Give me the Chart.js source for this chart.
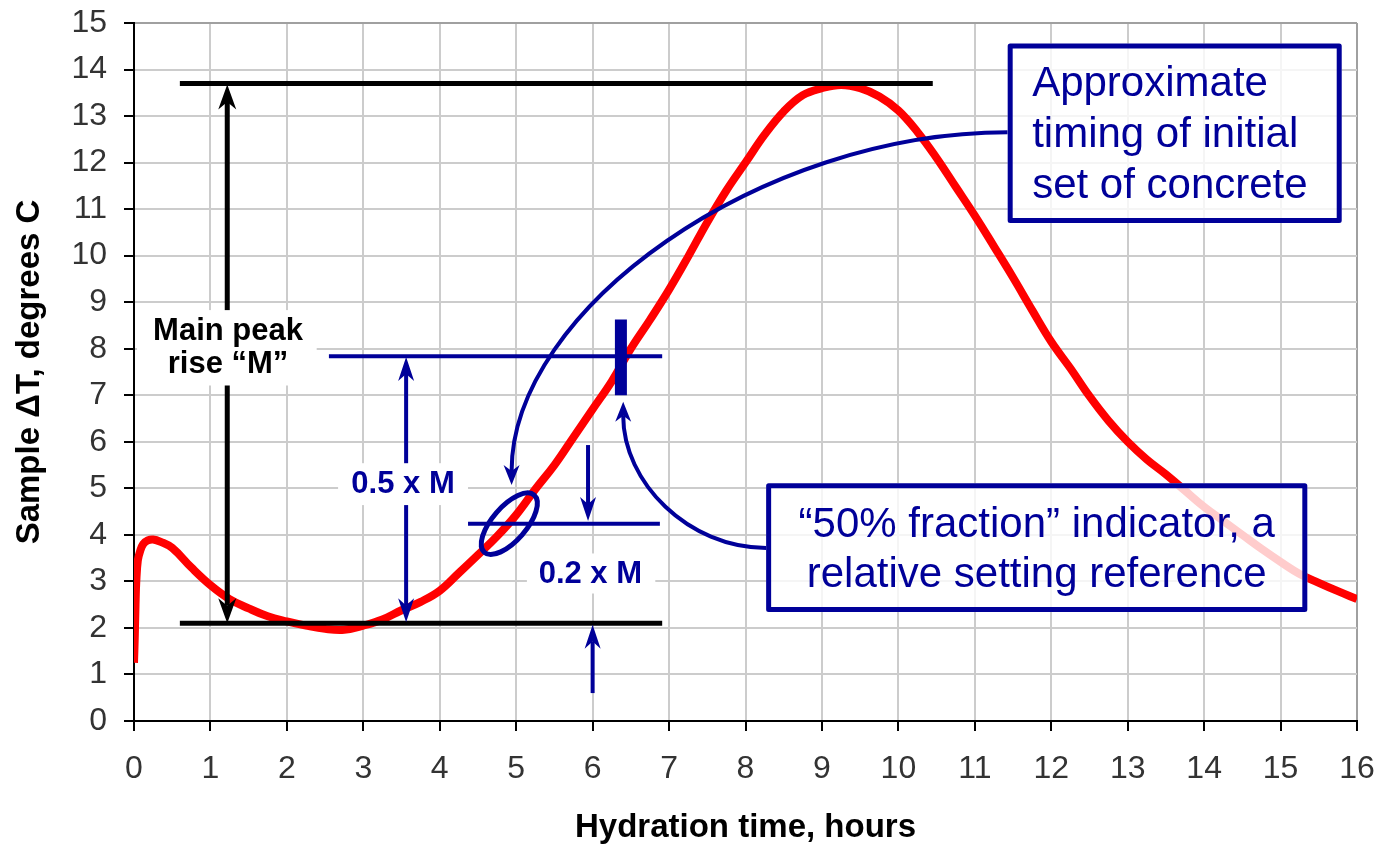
<!DOCTYPE html>
<html>
<head>
<meta charset="utf-8">
<script src="https://cdn.jsdelivr.net/npm/chart.js@4.4.1/dist/chart.umd.min.js"></script>
<style>
  html, body { margin: 0; padding: 0; background: #fff; }
  #wrap { width: 1379px; height: 844px; }
</style>
</head>
<body>
<div id="wrap"><canvas id="myChart"></canvas></div>
<script>
// hydration time (h) and sample delta T (deg C)
const hours = [0, 0.01, 0.02, 0.03, 0.05, 0.08, 0.12, 0.18, 0.25, 0.35, 0.5, 0.75,
  1, 1.25, 1.5, 1.75, 2, 2.25, 2.5, 2.75, 3, 3.25, 3.5, 3.75,
  4, 4.25, 4.5, 4.75, 5, 5.25, 5.5, 5.75, 6, 6.25, 6.5, 6.75,
  7, 7.25, 7.5, 7.75, 8, 8.25, 8.5, 8.75, 9, 9.25, 9.5, 9.75,
  10, 10.25, 10.5, 10.75, 11, 11.25, 11.5, 11.75, 12, 12.25, 12.5, 12.75,
  13, 13.25, 13.5, 13.75, 14, 14.25, 14.5, 14.75, 15, 15.25, 15.5, 15.75, 16];
const deltaT = [1.25, 1.8, 2.5, 3.0, 3.45, 3.65, 3.8, 3.88, 3.9, 3.85, 3.72, 3.3,
  2.92, 2.62, 2.42, 2.25, 2.14, 2.05, 1.98, 1.96, 2.05, 2.18, 2.38, 2.56,
  2.8, 3.18, 3.57, 3.97, 4.43, 4.98, 5.5, 6.1, 6.7, 7.3, 8.0, 8.62,
  9.27, 9.98, 10.72, 11.4, 12.0, 12.6, 13.1, 13.45, 13.6, 13.67, 13.6, 13.42,
  13.12, 12.66, 12.1, 11.48, 10.86, 10.2, 9.53, 8.83, 8.15, 7.58, 6.98, 6.45,
  6.0, 5.62, 5.3, 4.95, 4.6, 4.3, 4.0, 3.7, 3.42, 3.16, 2.97, 2.79, 2.62];

const xTickLabels = ['0','1','2','3','4','5','6','7','8','9','10','11','12','13','14','15','16'];
const yTickLabels = ['0','1','2','3','4','5','6','7','8','9','10','11','12','13','14','15'];

const FONT = "'Liberation Sans', Arial, sans-serif";
const NAVY = '#000099';

function arrowHead(ctx, x, y, ang, len, w, col) {
  ctx.save();
  ctx.translate(x, y);
  ctx.rotate(ang);
  ctx.beginPath();
  ctx.moveTo(0, 0);
  ctx.lineTo(-len, -w);
  ctx.lineTo(-len * 0.7, 0);
  ctx.lineTo(-len, w);
  ctx.closePath();
  ctx.fillStyle = col;
  ctx.fill();
  ctx.restore();
}

// annotations drawn on top, positioned in data units through the scales
const annotations = {
  id: 'annotations',
  afterDatasetsDraw(chart) {
    const ctx = chart.ctx;
    const X = v => chart.scales.x.getPixelForValue(v);
    const Y = v => chart.scales.y.getPixelForValue(v);
    ctx.save();

    function hline(y, x0, x1, col, lw) {
      ctx.beginPath();
      ctx.moveTo(X(x0), Y(y));
      ctx.lineTo(X(x1), Y(y));
      ctx.strokeStyle = col; ctx.lineWidth = lw; ctx.stroke();
    }
    function varrow(x, yFrom, yTo, col, lw, both, len, w) {
      const dir = Y(yTo) > Y(yFrom) ? 1 : -1;
      ctx.beginPath();
      ctx.moveTo(X(x), Y(yFrom) + (both ? dir * len * 0.7 : 0));
      ctx.lineTo(X(x), Y(yTo) - dir * len * 0.7);
      ctx.strokeStyle = col; ctx.lineWidth = lw; ctx.stroke();
      arrowHead(ctx, X(x), Y(yTo), dir > 0 ? Math.PI / 2 : -Math.PI / 2, len, w, col);
      if (both) arrowHead(ctx, X(x), Y(yFrom), dir > 0 ? -Math.PI / 2 : Math.PI / 2, len, w, col);
    }
    function label(lines, cx, baselines, bg, col, size) {
      ctx.fillStyle = '#fff';
      ctx.fillRect(X(bg[0]), Y(bg[2]), X(bg[1]) - X(bg[0]), Y(bg[3]) - Y(bg[2]));
      ctx.fillStyle = col;
      ctx.font = 'bold ' + size + 'px ' + FONT;
      ctx.textAlign = 'center';
      ctx.textBaseline = 'alphabetic';
      lines.forEach((t, i) => ctx.fillText(t, X(cx), Y(baselines[i])));
    }
    function box(x0, x1, y0, y1) {
      ctx.fillStyle = 'rgba(255,255,255,0.8)';
      ctx.fillRect(X(x0), Y(y0), X(x1) - X(x0), Y(y1) - Y(y0));
      ctx.strokeStyle = NAVY; ctx.lineWidth = 5; ctx.lineJoin = 'round';
      ctx.strokeRect(X(x0) + 2.5, Y(y0) + 2.5, X(x1) - X(x0) - 5, Y(y1) - Y(y0) - 5);
    }
    function curveArrow(p, col, lw, len, w) {
      const last = p[3], prev = p[2];
      const ang = Math.atan2(Y(last[1]) - Y(prev[1]), X(last[0]) - X(prev[0]));
      const ex = X(last[0]) - Math.cos(ang) * len * 0.7;
      const ey = Y(last[1]) - Math.sin(ang) * len * 0.7;
      ctx.beginPath();
      ctx.moveTo(X(p[0][0]), Y(p[0][1]));
      ctx.bezierCurveTo(X(p[1][0]), Y(p[1][1]), X(p[2][0]), Y(p[2][1]), ex, ey);
      ctx.strokeStyle = col; ctx.lineWidth = lw; ctx.stroke();
      arrowHead(ctx, X(last[0]), Y(last[1]), ang, len, w, col);
    }

    // main peak rise M (black)
    hline(13.7, 0.6, 10.45, '#000', 5);
    hline(2.1, 0.6, 6.91, '#000', 5);
    varrow(1.22, 2.1, 13.68, '#000', 5, true, 25, 9);
    label(['Main peak', 'rise \u201cM\u201d'], 1.23, [8.18, 7.48], [0.04, 2.39, 8.83, 7.21], '#000', 31);

    // 0.5 x M
    hline(7.84, 2.55, 6.91, NAVY, 4);
    varrow(3.56, 2.12, 7.82, NAVY, 4, true, 24, 8);
    label(['0.5 x M'], 3.52, [4.89], [2.67, 4.37, 5.54, 4.64], NAVY, 31);

    // 0.2 x M
    hline(4.24, 4.37, 6.88, NAVY, 4);
    varrow(5.94, 5.93, 4.3, NAVY, 4, false, 24, 8);
    varrow(6.0, 0.6, 2.07, NAVY, 4, false, 24, 8);
    label(['0.2 x M'], 5.97, [2.97], [5.14, 6.82, 3.6, 2.74], NAVY, 31);

    // 50% fraction marker
    ctx.beginPath();
    ctx.moveTo(X(6.37), Y(8.63));
    ctx.lineTo(X(6.37), Y(7.0));
    ctx.strokeStyle = NAVY; ctx.lineWidth = 12; ctx.stroke();

    // initial set ellipse
    ctx.beginPath();
    ctx.ellipse(X(4.91), Y(4.24), 38, 17, -49 * Math.PI / 180, 0, Math.PI * 2);
    ctx.strokeStyle = NAVY; ctx.lineWidth = 5; ctx.stroke();

    // callouts
    curveArrow([[11.43, 12.65], [8.19, 12.65], [4.94, 8.85], [4.94, 5.07]], NAVY, 4, 20, 8);
    curveArrow([[8.27, 3.72], [7.25, 3.72], [6.40, 5.13], [6.40, 6.86]], NAVY, 4, 20, 8);

    box(11.43, 15.80, 14.56, 10.70);
    ctx.fillStyle = NAVY;
    ctx.font = '42px ' + FONT;
    ctx.textAlign = 'left';
    ctx.textBaseline = 'alphabetic';
    ['Approximate', 'timing of initial', 'set of concrete'].forEach((t, i) =>
      ctx.fillText(t, X(11.75), Y([13.44, 12.33, 11.25][i])));

    box(8.27, 15.35, 5.11, 2.34);
    ctx.fillStyle = NAVY;
    ctx.textAlign = 'center';
    ['\u201c50% fraction\u201d indicator, a', 'relative setting reference'].forEach((t, i) =>
      ctx.fillText(t, X(11.81), Y([3.95, 2.88][i])));

    ctx.restore();
  }
};

const ctx = document.getElementById('myChart');

new Chart(ctx, {
  type: 'line',
  data: {
    datasets: [{
      data: hours.map((h, i) => ({x: h, y: deltaT[i]})),
      borderColor: '#ff0000',
      borderWidth: 8,
      pointRadius: 0,
      tension: 0.4,
      fill: false
    }]
  },
  options: {
    responsive: true,
    maintainAspectRatio: false,
    devicePixelRatio: 1,
    animation: false,
    layout: { padding: 0 },
    plugins: { legend: { display: false }, tooltip: { enabled: false } },
    scales: {
      x: {
        type: 'linear',
        min: 0, max: 16,
        afterFit(scale) { scale.height = 123; scale.paddingRight = 22; },
        ticks: {
          stepSize: 1,
          padding: 19,
          color: '#333',
          font: { family: FONT, size: 32 },
          callback: (v) => xTickLabels[v]
        },
        grid: {
          color: c => (c.tick && c.tick.value === 16) ? '#a0a0a0' : '#cccccc',
          lineWidth: 2,
          tickColor: '#000',
          tickLength: 10
        },
        border: { color: '#000', width: 2 },
        title: {
          display: true,
          text: 'Hydration time, hours',
          color: '#000',
          font: { family: FONT, size: 33, weight: 'bold', lineHeight: 1.0 },
          padding: { top: 0, bottom: 0 }
        }
      },
      y: {
        min: 0, max: 15,
        afterFit(scale) { scale.width = 134; scale.paddingTop = 23; scale.paddingBottom = 0; },
        ticks: {
          stepSize: 1,
          padding: 17,
          color: '#333',
          font: { family: FONT, size: 32 },
          callback: (v) => yTickLabels[v]
        },
        grid: {
          color: c => (c.tick && c.tick.value === 15) ? '#a0a0a0' : '#cccccc',
          lineWidth: 2,
          tickColor: '#000',
          tickLength: 10
        },
        border: { color: '#000', width: 2 },
        title: {
          display: true,
          text: 'Sample \u0394T, degrees C',
          color: '#000',
          font: { family: FONT, size: 33, weight: 'bold' },
          padding: { top: 10, bottom: 0 }
        }
      }
    }
  },
  plugins: [annotations]
});
</script>
</body>
</html>
